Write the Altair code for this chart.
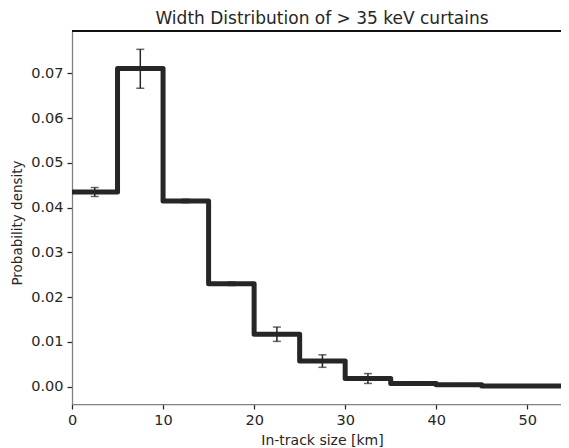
import altair as alt
import pandas as pd

# ---- data ----
bin_edges = [0, 5, 10, 15, 20, 25, 30, 35, 40, 45, 50, 55]
density = [0.0435, 0.0711, 0.0415, 0.0230, 0.0117, 0.0057, 0.0018, 0.0007, 0.0004, 0.0001, 0.0001]
err_low = [0.0425, 0.0667, 0.0411, 0.0226, 0.0101, 0.0043, 0.0007, 0.0004, 0.0003, 0.0001, 0.0001]
err_high = [0.0445, 0.0754, 0.0419, 0.0234, 0.0133, 0.0071, 0.0029, 0.0010, 0.0005, 0.0001, 0.0001]
x_ticks = [0, 10, 20, 30, 40, 50]
y_ticks = [0.00, 0.01, 0.02, 0.03, 0.04, 0.05, 0.06, 0.07]
title_text = ["Width Distribution of > 35 keV curtains"]

step_df = pd.DataFrame({"x": bin_edges, "y": density + [density[-1]]})
err_df = pd.DataFrame({
    "c": [(bin_edges[i] + bin_edges[i + 1]) / 2 for i in range(len(density))],
    "lo": err_low,
    "hi": err_high,
})

W, H = 489, 373
DARK = "#262626"
FONT = "DejaVu Sans"

xs = alt.Scale(domain=[0, 53.7], nice=False, zero=False)
ys = alt.Scale(domain=[-0.0039, 0.0795], nice=False, zero=False)

x_axis = alt.Axis(values=x_ticks, title="In-track size [km]", grid=False, format="d",
                  labelFlush=False, titleX=250, titleY=40, titleBaseline="alphabetic")
y_axis = alt.Axis(values=y_ticks, title="Probability density", grid=False, format=".2f",
                  titleX=-51, titleY=H / 2 + 5, titleBaseline="alphabetic")

line = alt.Chart(step_df).mark_line(
    interpolate="step-after", strokeWidth=5, color=DARK, clip=True, strokeJoin="round"
).encode(
    x=alt.X("x:Q", scale=xs, axis=x_axis),
    y=alt.Y("y:Q", scale=ys, axis=y_axis),
)

bars = alt.Chart(err_df).mark_rule(strokeWidth=1.5, color=DARK, clip=True).encode(
    x=alt.X("c:Q", scale=xs), y=alt.Y("lo:Q", scale=ys), y2="hi:Q"
)
cap_lo = alt.Chart(err_df).mark_tick(orient="horizontal", size=8, thickness=1.5, color=DARK, clip=True).encode(
    x=alt.X("c:Q", scale=xs), y=alt.Y("lo:Q", scale=ys)
)
cap_hi = alt.Chart(err_df).mark_tick(orient="horizontal", size=8, thickness=1.5, color=DARK, clip=True).encode(
    x=alt.X("c:Q", scale=xs), y=alt.Y("hi:Q", scale=ys)
)

top_spine = alt.Chart(pd.DataFrame({"k": [0]})).mark_rule(color="#111111", strokeWidth=2).encode(
    x=alt.value(0), x2=alt.value(W), y=alt.value(0)
)

title = alt.Chart(pd.DataFrame({"t": title_text})).mark_text(
    font=FONT, fontSize=17, color=DARK, align="center", baseline="alphabetic"
).encode(x=alt.value(250), y=alt.value(-7), text="t:N")

chart = alt.layer(line, bars, cap_lo, cap_hi, top_spine, title).properties(
    width=W, height=H,
    autosize=alt.AutoSizeParams(type="none"),
    padding={"left": 64, "top": 23, "right": 0, "bottom": 44},
).configure_view(stroke="transparent").configure_axis(
    labelFont=FONT, titleFont=FONT, labelFontSize=14.5, titleFontSize=14,
    labelColor=DARK, titleColor=DARK, titleFontWeight="normal",
    tickColor=DARK, tickSize=5, tickWidth=1.25,
    domainColor="#808080", domainWidth=1.25, labelPadding=4,
).configure_axisY(titleFontSize=13.5)

chart.save("out.html", embed_options={"renderer": "svg", "actions": False})
